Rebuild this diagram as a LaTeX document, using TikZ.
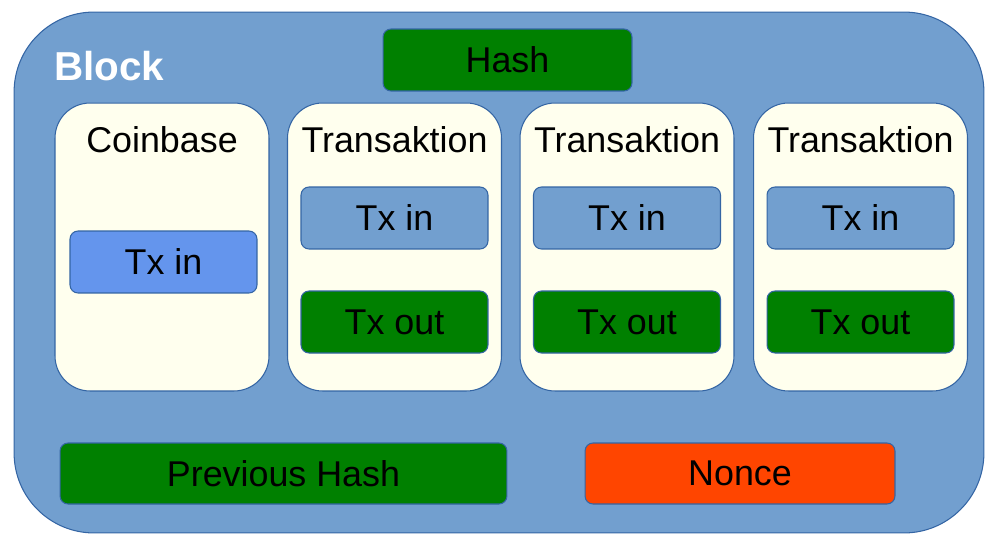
\documentclass[tikz,border=0pt]{standalone}
\usepackage{fontspec}
\setmainfont{Liberation Sans}
\usetikzlibrary{positioning}
\definecolor{blockblue}{HTML}{729FCF}
\definecolor{edgeblue}{HTML}{3465A4}
\definecolor{txyellow}{HTML}{FFFFEE}
\definecolor{hashgreen}{HTML}{008000}
\definecolor{cbblue}{HTML}{6495ED}
\definecolor{nonceorange}{HTML}{FF4500}
\tikzset{
  box/.style={draw=edgeblue, line width=0.6pt, rounded corners=0.16cm, font=\fontsize{20.4}{24}\selectfont},
  field/.style={box, minimum width=3.74cm, minimum height=1.24cm},
  txbox/.style={draw=edgeblue, line width=0.6pt, fill=txyellow, rounded corners=0.7cm,
    minimum width=4.28cm, minimum height=5.76cm},
  txtitle/.style={font=\fontsize{20.4}{24}\selectfont}
}
\begin{document}
\begin{tikzpicture}[x=0.02cm,y=-0.02cm]
\useasboundingbox (0,0) rectangle (997,548);
% the block
\node[draw=edgeblue, line width=0.6pt, fill=blockblue, rounded corners=1.6cm,
  minimum width=19.4cm, minimum height=10.42cm] (block) at (499,272.5) {};
\node[anchor=west, text=white, font=\fontsize{23}{27}\selectfont\bfseries] (blocklabel) at (48,66) {Block};
\node[box, fill=hashgreen, minimum width=4.98cm, minimum height=1.24cm] (hash) at (507.5,60) {Hash};
% coinbase
\node[txbox] (coinbase) at (162,247) {};
\node[txtitle] (cbtitle) at (162,140) {Coinbase};
\node[field, fill=cbblue] (cbin) at (163.5,262) {Tx in};
% transactions
\foreach \i/\x in {1/394.5,2/627,3/860.5}{
  \node[txbox] (tx\i) at (\x,247) {};
  \node[txtitle] (txtitle\i) at (\x,140) {Transaktion};
  \node[field, fill=blockblue] (txin\i) at (\x,218) {Tx in};
  \node[field, fill=hashgreen] (txout\i) at (\x,322) {Tx out};
}
% header fields
\node[box, fill=hashgreen, minimum width=8.94cm, minimum height=1.22cm] (prevhash) at (283.5,473.5) {Previous Hash};
\node[box, fill=nonceorange, minimum width=6.2cm, minimum height=1.22cm] (nonce) at (740,473.5) {Nonce};
\end{tikzpicture}
\end{document}
